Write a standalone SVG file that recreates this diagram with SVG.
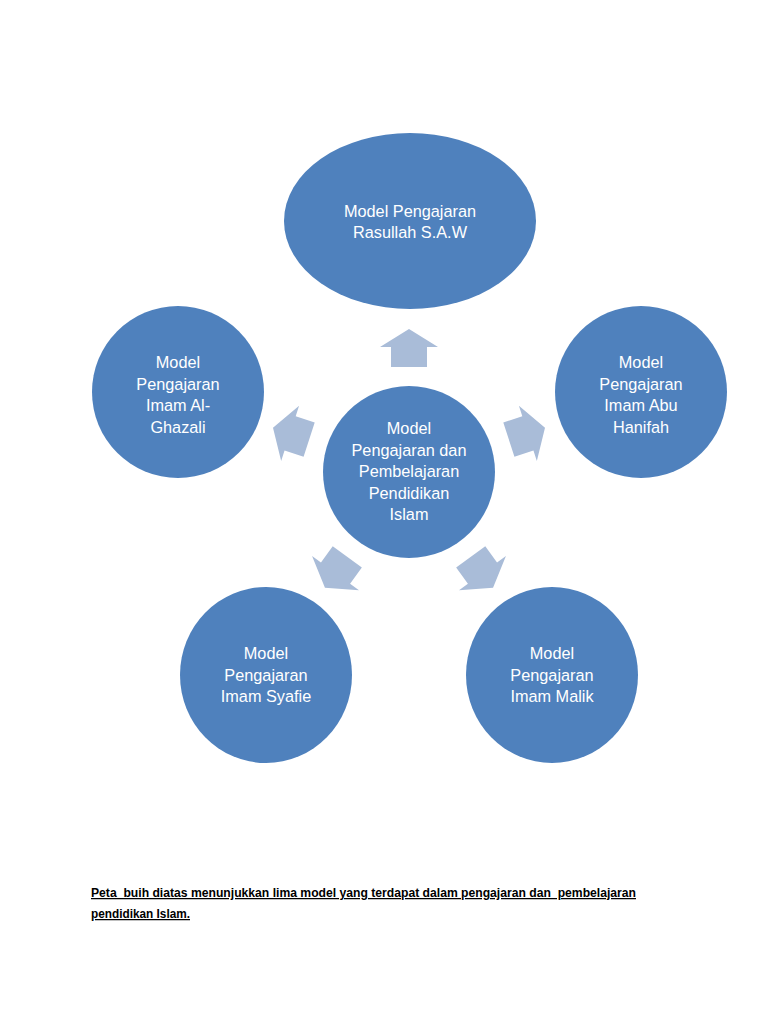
<svg xmlns="http://www.w3.org/2000/svg" width="768" height="1024" viewBox="0 0 768 1024">
<style>
.bub{fill:#4F81BD;}
.t{fill:#FFFFFF;font-family:"Liberation Sans","Open Sans",sans-serif;font-size:16.3px;text-anchor:middle;}
.arr{fill:#A9BCD8;}
.cap{fill:#000000;font-family:"Liberation Sans",sans-serif;font-size:12.5px;font-weight:bold;text-decoration:underline;white-space:pre;}
</style>
<defs>
<path id="arrow" d="M0,-143 L29,-125 L18,-125 L18,-105 L-18,-105 L-18,-125 L-29,-125 Z"/>
</defs>
<rect width="768" height="1024" fill="#FFFFFF"/>
<g id="connectors">
<use href="#arrow" class="arr" transform="translate(409,472)"/>
<use href="#arrow" class="arr" transform="translate(409,472) rotate(72)"/>
<use href="#arrow" class="arr" transform="translate(409,472) rotate(144)"/>
<use href="#arrow" class="arr" transform="translate(409,472) rotate(-144)"/>
<use href="#arrow" class="arr" transform="translate(409,472) rotate(-72)"/>
</g>
<g id="center">
<circle class="bub" cx="409" cy="472" r="86"/>
<text class="t"><tspan x="409" y="434">Model</tspan><tspan x="409" y="456">Pengajaran dan</tspan><tspan x="409" y="477">Pembelajaran</tspan><tspan x="409" y="499">Pendidikan</tspan><tspan x="409" y="520">Islam</tspan></text>
</g>
<g id="rasullah">
<ellipse class="bub" cx="410" cy="221" rx="126" ry="88"/>
<text class="t"><tspan x="410" y="217">Model Pengajaran</tspan><tspan x="410" y="238">Rasullah S.A.W</tspan></text>
</g>
<g id="ghazali">
<circle class="bub" cx="178" cy="392" r="86"/>
<text class="t"><tspan x="178" y="368">Model</tspan><tspan x="178" y="390">Pengajaran</tspan><tspan x="178" y="411">Imam Al-</tspan><tspan x="178" y="433">Ghazali</tspan></text>
</g>
<g id="hanifah">
<circle class="bub" cx="641" cy="392" r="86"/>
<text class="t"><tspan x="641" y="368">Model</tspan><tspan x="641" y="390">Pengajaran</tspan><tspan x="641" y="411">Imam Abu</tspan><tspan x="641" y="433">Hanifah</tspan></text>
</g>
<g id="syafie">
<ellipse class="bub" cx="266" cy="675" rx="86" ry="88"/>
<text class="t"><tspan x="266" y="659">Model</tspan><tspan x="266" y="681">Pengajaran</tspan><tspan x="266" y="702">Imam Syafie</tspan></text>
</g>
<g id="malik">
<ellipse class="bub" cx="552" cy="675" rx="86" ry="88"/>
<text class="t"><tspan x="552" y="659">Model</tspan><tspan x="552" y="681">Pengajaran</tspan><tspan x="552" y="702">Imam Malik</tspan></text>
</g>
<text class="cap" x="91" y="897" textLength="545" lengthAdjust="spacingAndGlyphs" xml:space="preserve">Peta  buih diatas menunjukkan lima model yang terdapat dalam pengajaran dan  pembelajaran</text>
<text class="cap" x="91" y="918" textLength="99" lengthAdjust="spacingAndGlyphs">pendidikan Islam.</text>
</svg>
